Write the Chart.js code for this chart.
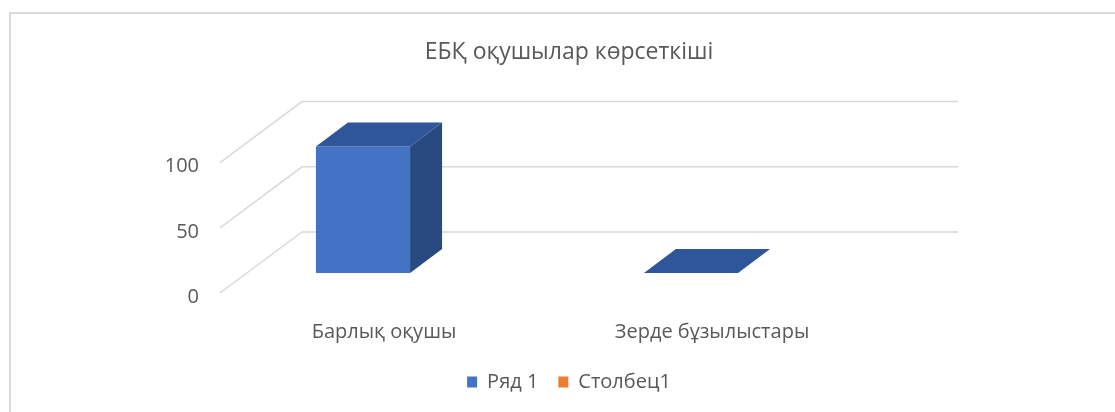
<!DOCTYPE html>
<html>
<head>
<meta charset="utf-8">
<script src="https://cdn.jsdelivr.net/npm/chart.js@4.4.1/dist/chart.umd.min.js"></script>
<style>
  html, body { margin: 0; padding: 0; background: #fff; overflow: hidden; }
  #wrap { width: 1115px; height: 412px; }
</style>
</head>
<body>
<div id="wrap"><canvas id="c" width="1115" height="412"></canvas></div>
<script>
const categories = ['Барлық оқушы', 'Зерде бұзылыстары'];
const seriesNames = ['Ряд 1', 'Столбец1'];
const row1 = [97, 0];
const col1 = [null, null];
const yMin = 0, yMax = 100, yStep = 50;

const txt  = '#595959';
const FONT = "'Open Sans', sans-serif";

// fake 3D: offsets in px
const WALL      = { dx: 82, dy: -61 };   // side wall depth
const BAR_SHIFT = { dx: -21, dy: -20 };  // bar front face vs front plane
const BAR_DEPTH = { dx: 32, dy: -24 };   // bar depth

function poly(ctx, pts) {
  ctx.beginPath();
  ctx.moveTo(pts[0][0], pts[0][1]);
  pts.slice(1).forEach(p => ctx.lineTo(p[0], p[1]));
  ctx.closePath();
  ctx.fill();
}

const frame3d = {
  id: 'frame3d',
  beforeDraw(ch) {
    const {ctx} = ch;
    ctx.save();
    ctx.strokeStyle = '#d9d9d9'; ctx.lineWidth = 2;
    ctx.beginPath(); ctx.moveTo(10, ch.height); ctx.lineTo(10, 13); ctx.lineTo(ch.width, 13); ctx.stroke();
    ctx.restore();
  },
  beforeDatasetsDraw(ch) {
    const {ctx, chartArea: {left, right}, scales: {y}} = ch;
    ctx.save();
    ctx.strokeStyle = '#d9d9d9'; ctx.lineWidth = 1.5;
    y.ticks.forEach(t => {
      const py = y.getPixelForValue(t.value);
      ctx.beginPath();
      ctx.moveTo(left, py);
      ctx.lineTo(left + WALL.dx, py + WALL.dy);
      ctx.lineTo(right + WALL.dx, py + WALL.dy);
      ctx.stroke();
    });
    ctx.restore();
    // bars are pushed back into the box
    ctx.save();
    ctx.translate(BAR_SHIFT.dx, BAR_SHIFT.dy);
  },
  afterDatasetsDraw(ch) {
    const {ctx} = ch;
    const {dx, dy} = BAR_DEPTH;
    ch.data.datasets.forEach((ds, i) => {
      const meta = ch.getDatasetMeta(i);
      if (!meta.visible) return;
      meta.data.forEach((bar, j) => {
        if (ds.data[j] == null || isNaN(bar.y)) return;
        const l = bar.x - bar.width / 2, r = bar.x + bar.width / 2;
        ctx.fillStyle = ds.topColor;
        poly(ctx, [[l, bar.y], [r, bar.y], [r + dx, bar.y + dy], [l + dx, bar.y + dy]]);
        if (bar.base - bar.y > 0.5) {
          ctx.fillStyle = ds.sideColor;
          poly(ctx, [[r, bar.y], [r + dx, bar.y + dy], [r + dx, bar.base + dy], [r, bar.base]]);
        }
      });
    });
    ctx.restore();
  }
};

new Chart(document.getElementById('c'), {
  type: 'bar',
  data: {
    labels: categories,
    datasets: [
      { label: seriesNames[0], data: row1, backgroundColor: '#4472C4', topColor: '#30569A', sideColor: '#294A80',
        borderWidth: 0, grouped: false, barPercentage: 0.287, categoryPercentage: 1, clip: false },
      { label: seriesNames[1], data: col1, backgroundColor: '#ED7D31', topColor: '#C0602A', sideColor: '#A65220',
        borderWidth: 0, grouped: false, barPercentage: 0.287, categoryPercentage: 1, clip: false }
    ]
  },
  options: {
    responsive: false,
    animation: false,
    layout: { padding: { left: 23, right: 0, top: 0, bottom: 10 } },
    plugins: {
      title: {
        display: true, text: 'ЕБҚ оқушылар көрсеткіші', color: txt,
        font: { family: FONT, size: 23, weight: 'normal' },
        padding: { top: 39, bottom: 96 }
      },
      legend: {
        position: 'bottom',
        labels: { color: txt, font: { family: FONT, size: 20 }, boxWidth: 10, boxHeight: 11, padding: 20 }
      },
      tooltip: { enabled: false }
    },
    scales: {
      x: {
        grid: { display: false }, border: { display: false },
        ticks: { color: txt, font: { family: FONT, size: 20 }, padding: 19, maxRotation: 0 },
        afterFit: s => { s.height = 59; }
      },
      y: {
        position: 'left', min: yMin, max: yMax,
        grid: { display: false }, border: { display: false },
        ticks: { stepSize: yStep, color: txt, font: { family: FONT, size: 20 }, padding: 13, labelOffset: 4 },
        afterFit: s => { s.width = 197; }
      },
      y2: {
        position: 'right',
        grid: { display: false }, border: { display: false },
        ticks: { display: false },
        afterFit: s => { s.width = 239; }
      }
    }
  },
  plugins: [frame3d]
});
</script>
</body>
</html>
